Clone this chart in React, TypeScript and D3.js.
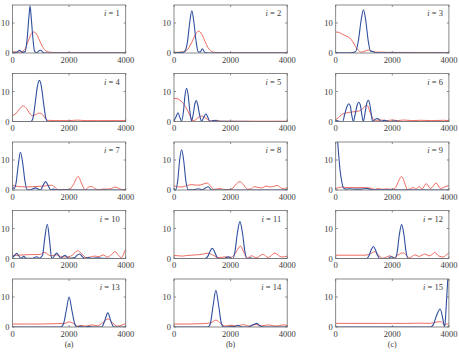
import React from 'react';
import * as d3 from 'd3';

type Pt = [number, number];

const X_TICKS = [0, 2000, 4000];
const Y_TICKS = [0, 10];
const COLUMN_LABELS = ['(a)', '(b)', '(c)'];

// Blue: |response| of each component; red: reference spectrum (x in 0..4000)
const BLUE_1: Pt[] = [[0, 0.1], [150, 0.2], [250, 0.9], [350, 0.2], [450, 0.5], [520, 5], [580, 12], [620, 15.7], [660, 12], [720, 5], [780, 0.6], [850, 0.1], [950, 0.8], [1000, 0.9], [1070, 0.3], [1150, 0], [4000, 0]];
const RED_1: Pt[] = [[0, 0.4], [200, 0.3], [350, 0.5], [450, 1.5], [550, 3.8], [650, 6.2], [750, 7], [850, 6.3], [950, 4.3], [1050, 2.3], [1150, 0.9], [1300, 0.3], [1500, 0.15], [2000, 0.1], [4000, 0.05]];

const BLUE_2: Pt[] = [[0, 0.1], [300, 0.2], [400, 0.8], [480, 4], [560, 10.5], [630, 14.1], [700, 10.5], [780, 4], [850, 0.5], [920, 0.3], [1000, 1.4], [1080, 0.3], [1150, 0.1], [1300, 0], [4000, 0]];
const RED_2: Pt[] = [[0, 0.2], [300, 0.3], [450, 0.9], [600, 3], [750, 6], [870, 7.3], [980, 6.3], [1100, 3.8], [1200, 1.8], [1300, 0.7], [1450, 0.2], [1700, 0.1], [4000, 0.05]];

const BLUE_3: Pt[] = [[0, 0.1], [500, 0.1], [700, 0.4], [800, 4], [900, 11], [980, 14.4], [1060, 11], [1150, 4], [1230, 0.6], [1320, 0.5], [1400, 0.1], [4000, 0]];
const RED_3: Pt[] = [[0, 7], [100, 6.9], [250, 6.2], [400, 5.5], [500, 5], [600, 3.8], [700, 2.2], [800, 0.9], [880, 0.3], [1000, 0.5], [1150, 1.0], [1300, 0.5], [1450, 0.3], [2000, 0.2], [4000, 0.15]];

const BLUE_4: Pt[] = [[0, 0], [650, 0], [720, 1], [800, 6], [880, 11.7], [950, 13.7], [1020, 11.7], [1100, 6], [1180, 1], [1250, 0], [4000, 0]];
const RED_4: Pt[] = [[0, 2], [100, 2.5], [250, 4.2], [380, 5.2], [500, 4.3], [600, 2.8], [700, 1.9], [820, 2.3], [950, 2.8], [1050, 2.4], [1150, 1.1], [1250, 0.4], [1500, 0.3], [2000, 0.3], [2300, 0.45], [2600, 0.3], [3000, 0.3], [4000, 0.3]];

const BLUE_5: Pt[] = [[0, 0.2], [70, 1.5], [140, 2.9], [210, 1.3], [270, 0.1], [330, 3], [390, 8.8], [447, 11.1], [500, 8.8], [560, 3.5], [620, 0.1], [680, 2.5], [740, 6], [790, 7], [840, 5.5], [910, 2], [975, 0.1], [1050, 1.4], [1130, 2.6], [1200, 1.3], [1270, 0.05], [1380, 0.3], [1450, 0.4], [1550, 0.05], [4000, 0]];
const RED_5: Pt[] = [[0, 7.7], [100, 7.6], [200, 7.2], [300, 6.3], [400, 5], [500, 3.3], [580, 1.7], [660, 0.2], [750, 0.5], [850, 1.3], [970, 1.8], [1100, 1.3], [1250, 0.3], [1350, 0.1], [1500, 0.4], [1650, 0.1], [4000, 0.1]];

const BLUE_6: Pt[] = [[0, 0.3], [120, 0.1], [247, 0], [320, 2.5], [400, 5], [459, 5.9], [520, 5], [560, 2.5], [624, 0], [690, 2.5], [760, 5.5], [812, 6.4], [870, 5.5], [920, 2.5], [976, 0], [1040, 3], [1100, 6.2], [1153, 7.1], [1210, 5.5], [1260, 2.3], [1306, 0], [1390, 0.7], [1470, 1], [1540, 0.6], [1600, 0], [1680, 0.3], [1740, 0.4], [1800, 0.2], [1900, 0], [2100, 0.2], [2300, 0], [4000, 0]];
const RED_6: Pt[] = [[0, 0.6], [100, 1.3], [200, 2.2], [300, 2.7], [450, 3], [600, 3.2], [750, 3.4], [850, 3.6], [950, 4.2], [1050, 5.2], [1120, 5.3], [1200, 3.5], [1300, 1.2], [1400, 0.4], [1600, 0.5], [1800, 0.3], [2000, 0.5], [2200, 0.3], [2400, 0.5], [2700, 0.3], [3000, 0.4], [3400, 0.3], [3800, 0.4], [4000, 0.3]];

const BLUE_7: Pt[] = [[0, 1.2], [60, 0.5], [120, 2], [200, 8], [280, 12.6], [360, 9], [440, 3], [520, 0.1], [650, 0.1], [740, 0.5], [820, 0.7], [900, 0.3], [1000, 0.1], [1080, 1.5], [1170, 2.8], [1260, 1.5], [1350, 0.05], [1450, 0.3], [1550, 0.05], [4000, 0]];
const RED_7: Pt[] = [[0, 1.6], [100, 1.3], [300, 1.1], [500, 1], [700, 1.1], [900, 1.2], [1100, 1.3], [1250, 1.5], [1380, 1.6], [1500, 0.9], [1620, 0.1], [1800, 0.2], [2000, 0.1], [2150, 1.8], [2320, 4.5], [2450, 2], [2560, 0.1], [2680, 0.9], [2790, 1.2], [2900, 0.6], [3030, 0.05], [3200, 0.3], [3350, 0.3], [3500, 0.5], [3620, 1], [3750, 0.6], [3900, 0.1], [4000, 0.2]];

const BLUE_8: Pt[] = [[0, 0.5], [50, 0.1], [130, 3], [200, 10], [270, 13.4], [340, 10], [420, 3], [500, 0.1], [700, 0.1], [860, 0.4], [1000, 0.05], [1100, 0.6], [1210, 1.1], [1320, 0.1], [1400, 0], [4000, 0]];
const RED_8: Pt[] = [[0, 1.5], [100, 1.1], [250, 1], [400, 1.3], [550, 1.7], [650, 1.8], [800, 1.6], [950, 1.7], [1100, 2.2], [1180, 2.3], [1300, 1.2], [1400, 0.2], [1500, 0.3], [1600, 0.5], [1750, 0.2], [1900, 0.1], [2050, 0.4], [2200, 2], [2330, 2.8], [2450, 1.8], [2600, 0.3], [2700, 0.3], [2850, 1.1], [2950, 0.9], [3100, 0.7], [3250, 1.3], [3400, 1], [3550, 1.3], [3650, 1.5], [3800, 0.6], [3900, 0.4], [4000, 1]];

const BLUE_9: Pt[] = [[0, 25], [70, 16], [150, 7], [220, 2.5], [280, 0.6], [350, 0.3], [500, 0.4], [700, 0.3], [900, 0.3], [1100, 0.5], [1200, 0.3], [1300, 0.05], [4000, 0]];
const RED_9: Pt[] = [[0, 0.5], [100, 0.8], [210, 1], [400, 0.8], [700, 0.8], [1000, 0.8], [1200, 0.7], [1400, 0.2], [1500, 0.5], [1650, 0.2], [1800, 0.4], [1950, 0.2], [2100, 0.6], [2200, 2.5], [2330, 4.5], [2450, 2], [2530, 0.1], [2740, 0.8], [2850, 0.3], [2950, 1.2], [3050, 0.3], [3200, 2.1], [3350, 0.5], [3550, 2.3], [3700, 0.5], [3900, 1.2], [4000, 1.5]];

const BLUE_10: Pt[] = [[0, 0.3], [70, 1], [150, 1.7], [230, 0.8], [300, 0.05], [400, 0.7], [480, 0.05], [700, 0.05], [800, 0.4], [860, 0.6], [940, 0.1], [1060, 1], [1130, 6], [1230, 11.4], [1310, 6], [1380, 0.3], [1420, 0.1], [1500, 1.2], [1560, 1.8], [1630, 1], [1700, 0.05], [1800, 0.8], [1850, 1.1], [1920, 0.5], [2000, 0.05], [2200, 0.3], [2300, 1.2], [2380, 1.5], [2460, 0.7], [2550, 0.05], [2680, 0.3], [2800, 0.05], [3000, 0.2], [3200, 0.05], [4000, 0]];
const RED_10: Pt[] = [[0, 1], [200, 1.1], [400, 1.2], [600, 1.3], [800, 1.3], [1000, 1.4], [1100, 2], [1200, 1.8], [1300, 1], [1400, 0.9], [1550, 1.2], [1700, 0.7], [1900, 0.5], [2100, 1], [2300, 2.6], [2450, 1.5], [2600, 0.3], [2750, 0.5], [2900, 0.8], [3050, 0.6], [3200, 1.2], [3350, 0.5], [3500, 1.3], [3620, 2.3], [3750, 1], [3850, 0.3], [3950, 2], [4000, 3.2]];

const BLUE_11: Pt[] = [[0, 0], [1100, 0], [1200, 0.8], [1280, 2.5], [1350, 3.4], [1420, 2.5], [1500, 0.8], [1570, 0], [1750, 0], [1850, 0.3], [1930, 0.6], [2000, 0.2], [2080, 0], [2150, 2], [2240, 8.5], [2330, 12.3], [2420, 8.5], [2510, 2], [2580, 0], [2700, 0.2], [2800, 0], [4000, 0]];
const RED_11: Pt[] = [[0, 1], [150, 0.9], [300, 0.8], [450, 1], [600, 1.1], [750, 1.2], [900, 1.3], [1050, 1.5], [1200, 1.8], [1300, 1.5], [1420, 0.9], [1550, 0.3], [1700, 0.4], [1850, 0.6], [2000, 0.3], [2150, 1.5], [2350, 4.1], [2480, 1.8], [2580, 0.1], [2740, 0.9], [2900, 0.2], [3150, 1.4], [3330, 0.3], [3560, 1.8], [3800, 0.5], [4000, 0.8]];

const BLUE_12: Pt[] = [[0, 0], [1100, 0], [1180, 1], [1260, 3], [1330, 4], [1400, 3], [1480, 1], [1560, 0], [1850, 0], [1950, 0.6], [2020, 0.4], [2100, 0], [2170, 2], [2250, 8], [2330, 11.3], [2410, 8], [2490, 2], [2560, 0], [4000, 0]];
const RED_12: Pt[] = [[0, 1.1], [500, 1.1], [1000, 1.1], [1150, 1.3], [1300, 2], [1390, 2.3], [1500, 1.3], [1650, 0.1], [1800, 0.5], [1920, 0.9], [2050, 0.2], [2200, 1.2], [2390, 1.9], [2500, 1], [2600, 0.2], [2700, 0.7], [2800, 1.2], [2950, 0.7], [3050, 1.1], [3150, 1.5], [3300, 0.9], [3400, 1.3], [3500, 2], [3650, 0.8], [3800, 0.5], [3900, 1.1], [4000, 1.9]];

const BLUE_13: Pt[] = [[0, 0], [1700, 0], [1800, 1], [1900, 5.5], [2000, 10], [2100, 5.5], [2200, 1], [2280, 0], [2400, 0.3], [2500, 0], [2700, 0.2], [2850, 0], [3150, 0], [3250, 1.8], [3370, 4.7], [3480, 1.8], [3580, 0], [4000, 0]];
const RED_13: Pt[] = [[0, 1], [500, 1], [1000, 1], [1500, 1.1], [1850, 1.2], [2000, 1.7], [2150, 1.2], [2300, 0.3], [2450, 0.5], [2600, 0.3], [2800, 0.7], [3000, 0.4], [3200, 1.5], [3380, 2.7], [3550, 1.2], [3700, 0.3], [3850, 0.6], [4000, 1.1]];

const BLUE_14: Pt[] = [[0, 0], [1200, 0], [1280, 1], [1380, 7], [1480, 12.2], [1580, 7], [1680, 1], [1760, 0], [2150, 0.2], [2260, 0.6], [2360, 0.1], [2600, 0], [2800, 0.8], [2930, 1.2], [3050, 0.3], [3200, 0], [4000, 0]];
const RED_14: Pt[] = [[0, 1], [500, 1], [1000, 1.1], [1300, 1.4], [1480, 2.3], [1650, 1.2], [1800, 0.3], [2000, 0.6], [2200, 0.3], [2450, 0.8], [2650, 0.3], [2900, 0.8], [3100, 0.4], [3350, 0.7], [3600, 0.3], [3850, 0.7], [4000, 0.5]];

const BLUE_15: Pt[] = [[0, 0], [3350, 0], [3450, 0.8], [3570, 4], [3690, 6], [3780, 3], [3850, 0], [3900, 6], [3960, 16], [4000, 22]];
const RED_15: Pt[] = [[0, 1.2], [500, 1.2], [1000, 1.2], [1500, 1.2], [2000, 1.2], [2500, 1.2], [3000, 1.3], [3300, 1.2], [3500, 1.5], [3700, 1.8], [3850, 0.8], [4000, 1.2]];

const PANELS = [
  { i: 1, blue: BLUE_1, red: RED_1 },
  { i: 2, blue: BLUE_2, red: RED_2 },
  { i: 3, blue: BLUE_3, red: RED_3 },
  { i: 4, blue: BLUE_4, red: RED_4 },
  { i: 5, blue: BLUE_5, red: RED_5 },
  { i: 6, blue: BLUE_6, red: RED_6 },
  { i: 7, blue: BLUE_7, red: RED_7 },
  { i: 8, blue: BLUE_8, red: RED_8 },
  { i: 9, blue: BLUE_9, red: RED_9 },
  { i: 10, blue: BLUE_10, red: RED_10 },
  { i: 11, blue: BLUE_11, red: RED_11 },
  { i: 12, blue: BLUE_12, red: RED_12 },
  { i: 13, blue: BLUE_13, red: RED_13 },
  { i: 14, blue: BLUE_14, red: RED_14 },
  { i: 15, blue: BLUE_15, red: RED_15 },
];

const WIDTH = 459;
const HEIGHT = 352;
const COL_X = [12.5, 174, 335.7];
const ROW_TOP = 5;
const ROW_PITCH = 68.5;
const PLOT_W = 113.2;
const PLOT_H = 48;

const BLUE = '#2f4f9e';
const RED = '#ec5a4d';
const FRAME = '#6b6b6b';
const TEXT = '#3a3a3a';
const FONT = '"Liberation Serif", "DejaVu Serif", serif';

export default function App() {
  const x = d3.scaleLinear().domain([0, 4000]).range([0, PLOT_W]);
  const y = d3.scaleLinear().domain([0, 16]).range([PLOT_H, 0]);
  const line = d3
    .line<Pt>()
    .x((d) => x(d[0]))
    .y((d) => y(d[1]))
    .curve(d3.curveMonotoneX);

  return (
    <svg
      width={WIDTH}
      height={HEIGHT}
      style={{ position: 'absolute', left: 0, top: 0, background: '#fff' }}
      fontFamily={FONT}
    >
      <rect width={WIDTH} height={HEIGHT} fill="#fff" />
      {PANELS.map((p, k) => {
        const col = k % 3;
        const row = Math.floor(k / 3);
        const tx = COL_X[col];
        const ty = ROW_TOP + row * ROW_PITCH;
        const clipId = `clip-${p.i}`;
        return (
          <g key={p.i} transform={`translate(${tx},${ty})`}>
            <defs>
              <clipPath id={clipId}>
                <rect x={0} y={0} width={PLOT_W} height={PLOT_H} />
              </clipPath>
            </defs>
            <g clipPath={`url(#${clipId})`} fill="none">
              <path d={line(p.red) ?? ''} stroke={RED} strokeWidth={0.9} />
              <path d={line(p.blue) ?? ''} stroke={BLUE} strokeWidth={1.1} />
            </g>
            <rect x={0} y={0} width={PLOT_W} height={PLOT_H} fill="none" stroke={FRAME} strokeWidth={0.8} />
            {X_TICKS.map((t) => (
              <g key={`x${t}`}>
                <line x1={x(t)} x2={x(t)} y1={PLOT_H} y2={PLOT_H - 2} stroke={FRAME} strokeWidth={0.8} />
                <line x1={x(t)} x2={x(t)} y1={0} y2={2} stroke={FRAME} strokeWidth={0.8} />
                <text x={x(t)} y={PLOT_H + 9.5} fontSize={8.5} fill={TEXT} textAnchor="middle">
                  {t}
                </text>
              </g>
            ))}
            {Y_TICKS.map((t) => (
              <g key={`y${t}`}>
                <line x1={0} x2={2} y1={y(t)} y2={y(t)} stroke={FRAME} strokeWidth={0.8} />
                <line x1={PLOT_W} x2={PLOT_W - 2} y1={y(t)} y2={y(t)} stroke={FRAME} strokeWidth={0.8} />
                <text x={-3} y={y(t) + 3} fontSize={8.5} fill={TEXT} textAnchor="end">
                  {t}
                </text>
              </g>
            ))}
            <text x={PLOT_W - 6} y={11} fontSize={8.5} fill={TEXT} textAnchor="end">
              <tspan fontStyle="italic">i</tspan>
              {` = ${p.i}`}
            </text>
          </g>
        );
      })}
      {COLUMN_LABELS.map((lab, c) => (
        <text
          key={lab}
          x={COL_X[c] + PLOT_W / 2}
          y={347}
          fontSize={8}
          fill={TEXT}
          textAnchor="middle"
        >
          {lab}
        </text>
      ))}
    </svg>
  );
}
